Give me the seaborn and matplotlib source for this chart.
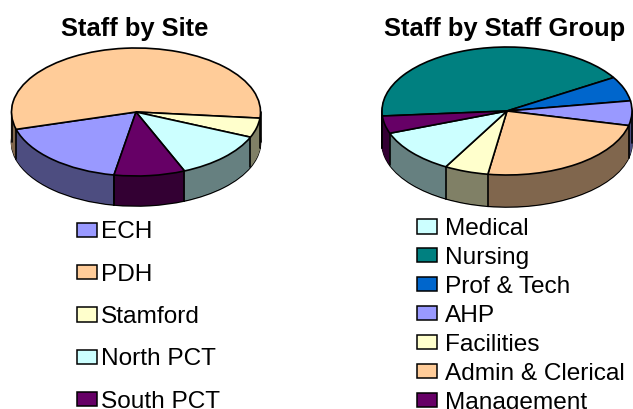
import numpy as np
import matplotlib
matplotlib.use("Agg")
import matplotlib.pyplot as plt
from matplotlib.patches import Patch
from matplotlib.colors import to_rgb
import seaborn as sns

W, H = 633, 409

# Pie order (clockwise) - shares in percent
site_names = ["ECH", "PDH", "Stamford", "North PCT", "South PCT"]
site_values = [17.8, 55.9, 4.9, 12.2, 9.2]
site_colors = ["#9999FF", "#FFCC99", "#FFFFCC", "#CCFFFF", "#660066"]
site_start = 259.8

group_names = ["Nursing", "Prof & Tech", "AHP", "Admin & Clerical", "Facilities", "Medical", "Management"]
group_values = [42.5, 6.2, 6.2, 23.8, 5.7, 11.2, 4.4]
group_colors = ["#008080", "#0066CC", "#9999FF", "#FFCC99", "#FFFFCC", "#CCFFFF", "#660066"]
group_start = 184.5
group_legend = ["Medical", "Nursing", "Prof & Tech", "AHP", "Facilities", "Admin & Clerical", "Management"]

sns.set_theme(style="white")
plt.rcParams["font.family"] = ["Liberation Sans", "DejaVu Sans"]

fig = plt.figure(figsize=(W / 100, H / 100), dpi=100, facecolor="white")


def pie3d(cx, cy, rx, ry, depth, values, colors, start):
    pad = 4
    ax = fig.add_axes([(cx - rx - pad) / W, 1 - (cy + ry + depth + pad) / H,
                       (2 * rx + 2 * pad) / W, (2 * ry + depth + 2 * pad) / H])
    dark = [tuple(c * 0.5 for c in to_rgb(k)) for k in colors]
    d = depth / ry
    common = dict(startangle=start, counterclock=False, radius=1.0)
    ax.pie(values, colors=dark, center=(0, -d),
           wedgeprops=dict(edgecolor="black", linewidth=1.2), **common)
    for off in np.arange(depth - 1, 0, -1.0):
        wedges, _ = ax.pie(values, colors=dark, center=(0, -off / ry),
                           wedgeprops=dict(linewidth=0.8), **common)
        for w in wedges:
            w.set_edgecolor(w.get_facecolor())
    bounds = start - np.cumsum([0] + list(values)) * 3.6
    for a in np.radians(bounds):
        if np.sin(a) < 0:
            ax.plot([np.cos(a)] * 2, [np.sin(a), np.sin(a) - d], color="black", lw=1.2, zorder=5)
    for x in (-1, 1):
        ax.plot([x, x], [0, -d], color="black", lw=1.2, zorder=5)
    ax.pie(values, colors=colors, center=(0, 0),
           wedgeprops=dict(edgecolor="black", linewidth=1.2, zorder=6), **common)
    ax.set_aspect("auto")
    ax.set_xlim(-1 - pad / rx, 1 + pad / rx)
    ax.set_ylim(-1 - d - pad / ry, 1 + pad / ry)
    ax.axis("off")
    return ax


pie3d(136, 112, 124.5, 64, 30, site_values, site_colors, site_start)
pie3d(507, 111, 125, 64, 32, group_values, group_colors, group_start)

TITLE_FS = 18.4
fig.text(135 / W, 1 - 36 / H, "Staff by Site", ha="center", va="baseline",
         fontsize=TITLE_FS, fontweight="bold", color="black")
fig.text(505 / W, 1 - 36 / H, "Staff by Staff Group", ha="center", va="baseline",
         fontsize=TITLE_FS, fontweight="bold", color="black")


def legend(names, lookup, x, y, spacing, pad):
    handles = [Patch(facecolor=lookup[n], edgecolor="black", linewidth=1.1) for n in names]
    leg = fig.legend(handles, names, loc="upper left", bbox_to_anchor=(x / W, 1 - y / H),
                     bbox_transform=fig.transFigure, frameon=False, fontsize=17.6,
                     labelspacing=spacing, handlelength=0.82, handleheight=0.53,
                     handletextpad=pad, borderaxespad=0, borderpad=0, labelcolor="black")
    return leg


legend(site_names, dict(zip(site_names, site_colors)), 77, 221.5, 0.83, 0.16)
legend(group_legend, dict(zip(group_names, group_colors)), 417, 218, 0.283, 0.33)

fig.savefig("out.png", dpi=100)
